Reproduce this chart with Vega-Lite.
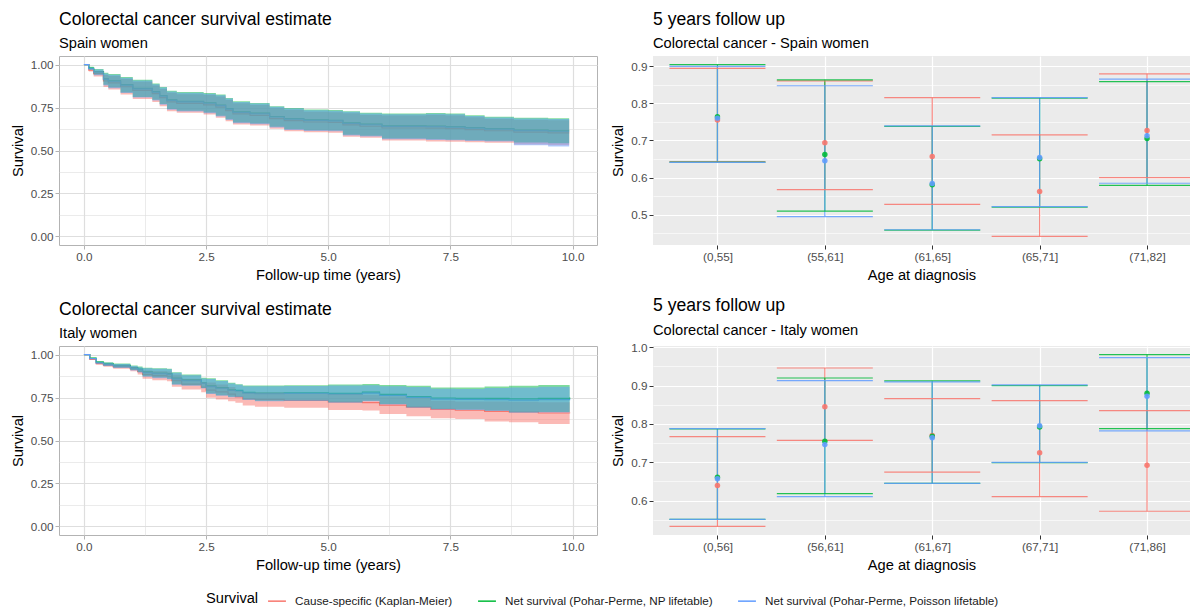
{
"$schema": "https://vega.github.io/schema/vega-lite/v6.json",
"background": "white",
"padding": {"left": 9, "top": 10, "right": 0, "bottom": 0},
"config": {
  "font": "Liberation Sans",
  "title": {"anchor": "start", "frame": "group", "fontSize": 17.6, "fontWeight": "normal", "color": "#000000", "subtitleFontSize": 14.67, "subtitleColor": "#000000", "subtitlePadding": 8, "offset": 5},
  "axis": {"labelFontSize": 11.7, "labelColor": "#4D4D4D", "titleFontSize": 14.67, "titleFontWeight": "normal", "titleColor": "#000000", "domain": false, "tickSize": 4, "labelPadding": 2, "titlePadding": 5},
  "legend": {"labelFontSize": 11.7, "labelColor": "#1A1A1A", "titleFontSize": 14.67, "titleFontWeight": "normal", "titleColor": "#000000", "labelLimit": 0, "symbolOpacity": 1}
},
"datasets": {
"spain_km": [
{"s":"Cause-specific (Kaplan-Meier)","t":0,"est":1,"lo":1,"hi":1},
{"s":"Cause-specific (Kaplan-Meier)","t":0.1,"est":0.968,"lo":0.960,"hi":0.975},
{"s":"Cause-specific (Kaplan-Meier)","t":0.2,"est":0.947,"lo":0.930,"hi":0.963},
{"s":"Cause-specific (Kaplan-Meier)","t":0.4,"est":0.905,"lo":0.870,"hi":0.940},
{"s":"Cause-specific (Kaplan-Meier)","t":0.5,"est":0.894,"lo":0.855,"hi":0.933},
{"s":"Cause-specific (Kaplan-Meier)","t":0.75,"est":0.871,"lo":0.826,"hi":0.916},
{"s":"Cause-specific (Kaplan-Meier)","t":1.0,"est":0.850,"lo":0.800,"hi":0.900},
{"s":"Cause-specific (Kaplan-Meier)","t":1.4,"est":0.831,"lo":0.783,"hi":0.878},
{"s":"Cause-specific (Kaplan-Meier)","t":1.55,"est":0.808,"lo":0.758,"hi":0.858},
{"s":"Cause-specific (Kaplan-Meier)","t":1.7,"est":0.783,"lo":0.729,"hi":0.836},
{"s":"Cause-specific (Kaplan-Meier)","t":1.9,"est":0.774,"lo":0.719,"hi":0.828},
{"s":"Cause-specific (Kaplan-Meier)","t":2.45,"est":0.766,"lo":0.709,"hi":0.823},
{"s":"Cause-specific (Kaplan-Meier)","t":2.7,"est":0.752,"lo":0.690,"hi":0.814},
{"s":"Cause-specific (Kaplan-Meier)","t":2.9,"est":0.732,"lo":0.670,"hi":0.794},
{"s":"Cause-specific (Kaplan-Meier)","t":3.05,"est":0.713,"lo":0.651,"hi":0.775},
{"s":"Cause-specific (Kaplan-Meier)","t":3.4,"est":0.705,"lo":0.645,"hi":0.765},
{"s":"Cause-specific (Kaplan-Meier)","t":3.8,"est":0.686,"lo":0.626,"hi":0.746},
{"s":"Cause-specific (Kaplan-Meier)","t":4.1,"est":0.674,"lo":0.612,"hi":0.736},
{"s":"Cause-specific (Kaplan-Meier)","t":4.5,"est":0.666,"lo":0.606,"hi":0.726},
{"s":"Cause-specific (Kaplan-Meier)","t":5.0,"est":0.664,"lo":0.604,"hi":0.723},
{"s":"Cause-specific (Kaplan-Meier)","t":5.3,"est":0.649,"lo":0.580,"hi":0.717},
{"s":"Cause-specific (Kaplan-Meier)","t":5.65,"est":0.641,"lo":0.574,"hi":0.707},
{"s":"Cause-specific (Kaplan-Meier)","t":6.1,"est":0.631,"lo":0.558,"hi":0.703},
{"s":"Cause-specific (Kaplan-Meier)","t":7.0,"est":0.630,"lo":0.553,"hi":0.706},
{"s":"Cause-specific (Kaplan-Meier)","t":7.4,"est":0.627,"lo":0.551,"hi":0.703},
{"s":"Cause-specific (Kaplan-Meier)","t":7.8,"est":0.621,"lo":0.548,"hi":0.693},
{"s":"Cause-specific (Kaplan-Meier)","t":8.2,"est":0.615,"lo":0.545,"hi":0.684},
{"s":"Cause-specific (Kaplan-Meier)","t":8.8,"est":0.607,"lo":0.535,"hi":0.678},
{"s":"Cause-specific (Kaplan-Meier)","t":9.5,"est":0.603,"lo":0.530,"hi":0.676},
{"s":"Cause-specific (Kaplan-Meier)","t":9.93,"est":0.603,"lo":0.530,"hi":0.668},
{"s":"Net survival (Pohar-Perme, NP lifetable)","t":0,"est":1,"lo":1,"hi":1},
{"s":"Net survival (Pohar-Perme, NP lifetable)","t":0.1,"est":0.980,"lo":0.972,"hi":0.987},
{"s":"Net survival (Pohar-Perme, NP lifetable)","t":0.2,"est":0.959,"lo":0.942,"hi":0.975},
{"s":"Net survival (Pohar-Perme, NP lifetable)","t":0.4,"est":0.917,"lo":0.882,"hi":0.952},
{"s":"Net survival (Pohar-Perme, NP lifetable)","t":0.5,"est":0.906,"lo":0.867,"hi":0.945},
{"s":"Net survival (Pohar-Perme, NP lifetable)","t":0.75,"est":0.883,"lo":0.838,"hi":0.928},
{"s":"Net survival (Pohar-Perme, NP lifetable)","t":1.0,"est":0.862,"lo":0.812,"hi":0.912},
{"s":"Net survival (Pohar-Perme, NP lifetable)","t":1.4,"est":0.843,"lo":0.795,"hi":0.890},
{"s":"Net survival (Pohar-Perme, NP lifetable)","t":1.55,"est":0.820,"lo":0.770,"hi":0.870},
{"s":"Net survival (Pohar-Perme, NP lifetable)","t":1.7,"est":0.795,"lo":0.741,"hi":0.848},
{"s":"Net survival (Pohar-Perme, NP lifetable)","t":1.9,"est":0.786,"lo":0.731,"hi":0.840},
{"s":"Net survival (Pohar-Perme, NP lifetable)","t":2.45,"est":0.778,"lo":0.721,"hi":0.835},
{"s":"Net survival (Pohar-Perme, NP lifetable)","t":2.7,"est":0.764,"lo":0.702,"hi":0.826},
{"s":"Net survival (Pohar-Perme, NP lifetable)","t":2.9,"est":0.744,"lo":0.682,"hi":0.806},
{"s":"Net survival (Pohar-Perme, NP lifetable)","t":3.05,"est":0.725,"lo":0.663,"hi":0.787},
{"s":"Net survival (Pohar-Perme, NP lifetable)","t":3.4,"est":0.717,"lo":0.657,"hi":0.777},
{"s":"Net survival (Pohar-Perme, NP lifetable)","t":3.8,"est":0.698,"lo":0.638,"hi":0.758},
{"s":"Net survival (Pohar-Perme, NP lifetable)","t":4.1,"est":0.686,"lo":0.624,"hi":0.748},
{"s":"Net survival (Pohar-Perme, NP lifetable)","t":4.5,"est":0.678,"lo":0.618,"hi":0.738},
{"s":"Net survival (Pohar-Perme, NP lifetable)","t":5.0,"est":0.676,"lo":0.616,"hi":0.735},
{"s":"Net survival (Pohar-Perme, NP lifetable)","t":5.3,"est":0.661,"lo":0.592,"hi":0.729},
{"s":"Net survival (Pohar-Perme, NP lifetable)","t":5.65,"est":0.653,"lo":0.586,"hi":0.719},
{"s":"Net survival (Pohar-Perme, NP lifetable)","t":6.1,"est":0.643,"lo":0.570,"hi":0.715},
{"s":"Net survival (Pohar-Perme, NP lifetable)","t":7.0,"est":0.642,"lo":0.565,"hi":0.718},
{"s":"Net survival (Pohar-Perme, NP lifetable)","t":7.4,"est":0.639,"lo":0.563,"hi":0.715},
{"s":"Net survival (Pohar-Perme, NP lifetable)","t":7.8,"est":0.633,"lo":0.560,"hi":0.705},
{"s":"Net survival (Pohar-Perme, NP lifetable)","t":8.2,"est":0.627,"lo":0.557,"hi":0.696},
{"s":"Net survival (Pohar-Perme, NP lifetable)","t":8.8,"est":0.619,"lo":0.547,"hi":0.690},
{"s":"Net survival (Pohar-Perme, NP lifetable)","t":9.5,"est":0.615,"lo":0.542,"hi":0.688},
{"s":"Net survival (Pohar-Perme, NP lifetable)","t":9.93,"est":0.615,"lo":0.542,"hi":0.690},
{"s":"Net survival (Pohar-Perme, Poisson lifetable)","t":0,"est":1,"lo":1,"hi":1},
{"s":"Net survival (Pohar-Perme, Poisson lifetable)","t":0.1,"est":0.977,"lo":0.968,"hi":0.983},
{"s":"Net survival (Pohar-Perme, Poisson lifetable)","t":0.2,"est":0.956,"lo":0.938,"hi":0.971},
{"s":"Net survival (Pohar-Perme, Poisson lifetable)","t":0.4,"est":0.914,"lo":0.878,"hi":0.948},
{"s":"Net survival (Pohar-Perme, Poisson lifetable)","t":0.5,"est":0.903,"lo":0.863,"hi":0.941},
{"s":"Net survival (Pohar-Perme, Poisson lifetable)","t":0.75,"est":0.880,"lo":0.834,"hi":0.924},
{"s":"Net survival (Pohar-Perme, Poisson lifetable)","t":1.0,"est":0.859,"lo":0.808,"hi":0.908},
{"s":"Net survival (Pohar-Perme, Poisson lifetable)","t":1.4,"est":0.840,"lo":0.791,"hi":0.886},
{"s":"Net survival (Pohar-Perme, Poisson lifetable)","t":1.55,"est":0.817,"lo":0.766,"hi":0.866},
{"s":"Net survival (Pohar-Perme, Poisson lifetable)","t":1.7,"est":0.792,"lo":0.737,"hi":0.844},
{"s":"Net survival (Pohar-Perme, Poisson lifetable)","t":1.9,"est":0.783,"lo":0.727,"hi":0.836},
{"s":"Net survival (Pohar-Perme, Poisson lifetable)","t":2.45,"est":0.775,"lo":0.717,"hi":0.831},
{"s":"Net survival (Pohar-Perme, Poisson lifetable)","t":2.7,"est":0.761,"lo":0.698,"hi":0.822},
{"s":"Net survival (Pohar-Perme, Poisson lifetable)","t":2.9,"est":0.741,"lo":0.678,"hi":0.802},
{"s":"Net survival (Pohar-Perme, Poisson lifetable)","t":3.05,"est":0.722,"lo":0.659,"hi":0.783},
{"s":"Net survival (Pohar-Perme, Poisson lifetable)","t":3.4,"est":0.714,"lo":0.653,"hi":0.773},
{"s":"Net survival (Pohar-Perme, Poisson lifetable)","t":3.8,"est":0.695,"lo":0.634,"hi":0.754},
{"s":"Net survival (Pohar-Perme, Poisson lifetable)","t":4.1,"est":0.683,"lo":0.620,"hi":0.744},
{"s":"Net survival (Pohar-Perme, Poisson lifetable)","t":4.5,"est":0.675,"lo":0.614,"hi":0.734},
{"s":"Net survival (Pohar-Perme, Poisson lifetable)","t":5.0,"est":0.673,"lo":0.612,"hi":0.731},
{"s":"Net survival (Pohar-Perme, Poisson lifetable)","t":5.3,"est":0.658,"lo":0.588,"hi":0.725},
{"s":"Net survival (Pohar-Perme, Poisson lifetable)","t":5.65,"est":0.650,"lo":0.582,"hi":0.715},
{"s":"Net survival (Pohar-Perme, Poisson lifetable)","t":6.1,"est":0.640,"lo":0.566,"hi":0.711},
{"s":"Net survival (Pohar-Perme, Poisson lifetable)","t":7.0,"est":0.639,"lo":0.561,"hi":0.714},
{"s":"Net survival (Pohar-Perme, Poisson lifetable)","t":7.4,"est":0.636,"lo":0.559,"hi":0.711},
{"s":"Net survival (Pohar-Perme, Poisson lifetable)","t":7.8,"est":0.630,"lo":0.556,"hi":0.701},
{"s":"Net survival (Pohar-Perme, Poisson lifetable)","t":8.2,"est":0.624,"lo":0.553,"hi":0.692},
{"s":"Net survival (Pohar-Perme, Poisson lifetable)","t":8.8,"est":0.616,"lo":0.531,"hi":0.686},
{"s":"Net survival (Pohar-Perme, Poisson lifetable)","t":9.5,"est":0.612,"lo":0.524,"hi":0.684},
{"s":"Net survival (Pohar-Perme, Poisson lifetable)","t":9.93,"est":0.612,"lo":0.524,"hi":0.684}
],
"italy_km": [
{"s":"Cause-specific (Kaplan-Meier)","t":0,"est":1,"lo":1,"hi":1},
{"s":"Cause-specific (Kaplan-Meier)","t":0.12,"est":0.972,"lo":0.971,"hi":0.973},
{"s":"Cause-specific (Kaplan-Meier)","t":0.25,"est":0.948,"lo":0.942,"hi":0.953},
{"s":"Cause-specific (Kaplan-Meier)","t":0.4,"est":0.938,"lo":0.929,"hi":0.947},
{"s":"Cause-specific (Kaplan-Meier)","t":0.6,"est":0.929,"lo":0.917,"hi":0.940},
{"s":"Cause-specific (Kaplan-Meier)","t":0.95,"est":0.916,"lo":0.903,"hi":0.928},
{"s":"Cause-specific (Kaplan-Meier)","t":1.1,"est":0.900,"lo":0.884,"hi":0.915},
{"s":"Cause-specific (Kaplan-Meier)","t":1.2,"est":0.884,"lo":0.859,"hi":0.908},
{"s":"Cause-specific (Kaplan-Meier)","t":1.4,"est":0.878,"lo":0.851,"hi":0.905},
{"s":"Cause-specific (Kaplan-Meier)","t":1.7,"est":0.874,"lo":0.845,"hi":0.902},
{"s":"Cause-specific (Kaplan-Meier)","t":1.8,"est":0.848,"lo":0.813,"hi":0.882},
{"s":"Cause-specific (Kaplan-Meier)","t":2.0,"est":0.828,"lo":0.797,"hi":0.859},
{"s":"Cause-specific (Kaplan-Meier)","t":2.4,"est":0.811,"lo":0.781,"hi":0.840},
{"s":"Cause-specific (Kaplan-Meier)","t":2.5,"est":0.793,"lo":0.749,"hi":0.837},
{"s":"Cause-specific (Kaplan-Meier)","t":2.7,"est":0.783,"lo":0.739,"hi":0.826},
{"s":"Cause-specific (Kaplan-Meier)","t":2.95,"est":0.770,"lo":0.729,"hi":0.811},
{"s":"Cause-specific (Kaplan-Meier)","t":3.1,"est":0.754,"lo":0.720,"hi":0.788},
{"s":"Cause-specific (Kaplan-Meier)","t":3.25,"est":0.742,"lo":0.704,"hi":0.780},
{"s":"Cause-specific (Kaplan-Meier)","t":3.5,"est":0.739,"lo":0.697,"hi":0.780},
{"s":"Cause-specific (Kaplan-Meier)","t":4.1,"est":0.733,"lo":0.691,"hi":0.774},
{"s":"Cause-specific (Kaplan-Meier)","t":5.0,"est":0.724,"lo":0.677,"hi":0.771},
{"s":"Cause-specific (Kaplan-Meier)","t":5.7,"est":0.721,"lo":0.674,"hi":0.767},
{"s":"Cause-specific (Kaplan-Meier)","t":6.05,"est":0.706,"lo":0.654,"hi":0.757},
{"s":"Cause-specific (Kaplan-Meier)","t":6.6,"est":0.694,"lo":0.641,"hi":0.747},
{"s":"Cause-specific (Kaplan-Meier)","t":7.1,"est":0.681,"lo":0.629,"hi":0.732},
{"s":"Cause-specific (Kaplan-Meier)","t":7.6,"est":0.676,"lo":0.625,"hi":0.727},
{"s":"Cause-specific (Kaplan-Meier)","t":8.2,"est":0.669,"lo":0.610,"hi":0.727},
{"s":"Cause-specific (Kaplan-Meier)","t":8.7,"est":0.666,"lo":0.606,"hi":0.726},
{"s":"Cause-specific (Kaplan-Meier)","t":9.3,"est":0.660,"lo":0.596,"hi":0.723},
{"s":"Cause-specific (Kaplan-Meier)","t":9.94,"est":0.658,"lo":0.596,"hi":0.720},
{"s":"Net survival (Pohar-Perme, NP lifetable)","t":0,"est":1,"lo":1,"hi":1},
{"s":"Net survival (Pohar-Perme, NP lifetable)","t":0.12,"est":0.980,"lo":0.979,"hi":0.981},
{"s":"Net survival (Pohar-Perme, NP lifetable)","t":0.25,"est":0.956,"lo":0.950,"hi":0.961},
{"s":"Net survival (Pohar-Perme, NP lifetable)","t":0.4,"est":0.946,"lo":0.937,"hi":0.955},
{"s":"Net survival (Pohar-Perme, NP lifetable)","t":0.6,"est":0.937,"lo":0.925,"hi":0.948},
{"s":"Net survival (Pohar-Perme, NP lifetable)","t":0.95,"est":0.924,"lo":0.911,"hi":0.936},
{"s":"Net survival (Pohar-Perme, NP lifetable)","t":1.1,"est":0.915,"lo":0.899,"hi":0.930},
{"s":"Net survival (Pohar-Perme, NP lifetable)","t":1.2,"est":0.899,"lo":0.874,"hi":0.923},
{"s":"Net survival (Pohar-Perme, NP lifetable)","t":1.4,"est":0.893,"lo":0.866,"hi":0.920},
{"s":"Net survival (Pohar-Perme, NP lifetable)","t":1.7,"est":0.889,"lo":0.860,"hi":0.917},
{"s":"Net survival (Pohar-Perme, NP lifetable)","t":1.8,"est":0.863,"lo":0.828,"hi":0.897},
{"s":"Net survival (Pohar-Perme, NP lifetable)","t":2.0,"est":0.853,"lo":0.822,"hi":0.884},
{"s":"Net survival (Pohar-Perme, NP lifetable)","t":2.4,"est":0.836,"lo":0.806,"hi":0.865},
{"s":"Net survival (Pohar-Perme, NP lifetable)","t":2.5,"est":0.818,"lo":0.774,"hi":0.862},
{"s":"Net survival (Pohar-Perme, NP lifetable)","t":2.7,"est":0.808,"lo":0.764,"hi":0.851},
{"s":"Net survival (Pohar-Perme, NP lifetable)","t":2.95,"est":0.795,"lo":0.754,"hi":0.836},
{"s":"Net survival (Pohar-Perme, NP lifetable)","t":3.1,"est":0.792,"lo":0.755,"hi":0.828},
{"s":"Net survival (Pohar-Perme, NP lifetable)","t":3.25,"est":0.780,"lo":0.739,"hi":0.820},
{"s":"Net survival (Pohar-Perme, NP lifetable)","t":3.5,"est":0.776,"lo":0.732,"hi":0.820},
{"s":"Net survival (Pohar-Perme, NP lifetable)","t":4.1,"est":0.778,"lo":0.733,"hi":0.822},
{"s":"Net survival (Pohar-Perme, NP lifetable)","t":5.0,"est":0.774,"lo":0.722,"hi":0.826},
{"s":"Net survival (Pohar-Perme, NP lifetable)","t":5.7,"est":0.781,"lo":0.732,"hi":0.829},
{"s":"Net survival (Pohar-Perme, NP lifetable)","t":6.05,"est":0.768,"lo":0.713,"hi":0.823},
{"s":"Net survival (Pohar-Perme, NP lifetable)","t":6.6,"est":0.756,"lo":0.693,"hi":0.819},
{"s":"Net survival (Pohar-Perme, NP lifetable)","t":7.1,"est":0.747,"lo":0.684,"hi":0.809},
{"s":"Net survival (Pohar-Perme, NP lifetable)","t":7.6,"est":0.745,"lo":0.680,"hi":0.809},
{"s":"Net survival (Pohar-Perme, NP lifetable)","t":8.2,"est":0.745,"lo":0.674,"hi":0.815},
{"s":"Net survival (Pohar-Perme, NP lifetable)","t":8.7,"est":0.742,"lo":0.664,"hi":0.819},
{"s":"Net survival (Pohar-Perme, NP lifetable)","t":9.3,"est":0.745,"lo":0.666,"hi":0.823},
{"s":"Net survival (Pohar-Perme, NP lifetable)","t":9.94,"est":0.750,"lo":0.674,"hi":0.825},
{"s":"Net survival (Pohar-Perme, Poisson lifetable)","t":0,"est":1,"lo":1,"hi":1},
{"s":"Net survival (Pohar-Perme, Poisson lifetable)","t":0.12,"est":0.977,"lo":0.976,"hi":0.978},
{"s":"Net survival (Pohar-Perme, Poisson lifetable)","t":0.25,"est":0.952,"lo":0.947,"hi":0.958},
{"s":"Net survival (Pohar-Perme, Poisson lifetable)","t":0.4,"est":0.942,"lo":0.934,"hi":0.952},
{"s":"Net survival (Pohar-Perme, Poisson lifetable)","t":0.6,"est":0.933,"lo":0.922,"hi":0.945},
{"s":"Net survival (Pohar-Perme, Poisson lifetable)","t":0.95,"est":0.920,"lo":0.908,"hi":0.933},
{"s":"Net survival (Pohar-Perme, Poisson lifetable)","t":1.1,"est":0.911,"lo":0.896,"hi":0.927},
{"s":"Net survival (Pohar-Perme, Poisson lifetable)","t":1.2,"est":0.895,"lo":0.871,"hi":0.920},
{"s":"Net survival (Pohar-Perme, Poisson lifetable)","t":1.4,"est":0.889,"lo":0.863,"hi":0.917},
{"s":"Net survival (Pohar-Perme, Poisson lifetable)","t":1.7,"est":0.885,"lo":0.857,"hi":0.914},
{"s":"Net survival (Pohar-Perme, Poisson lifetable)","t":1.8,"est":0.859,"lo":0.825,"hi":0.894},
{"s":"Net survival (Pohar-Perme, Poisson lifetable)","t":2.0,"est":0.849,"lo":0.819,"hi":0.880},
{"s":"Net survival (Pohar-Perme, Poisson lifetable)","t":2.4,"est":0.832,"lo":0.803,"hi":0.861},
{"s":"Net survival (Pohar-Perme, Poisson lifetable)","t":2.5,"est":0.814,"lo":0.771,"hi":0.858},
{"s":"Net survival (Pohar-Perme, Poisson lifetable)","t":2.7,"est":0.804,"lo":0.761,"hi":0.847},
{"s":"Net survival (Pohar-Perme, Poisson lifetable)","t":2.95,"est":0.791,"lo":0.751,"hi":0.832},
{"s":"Net survival (Pohar-Perme, Poisson lifetable)","t":3.1,"est":0.788,"lo":0.752,"hi":0.824},
{"s":"Net survival (Pohar-Perme, Poisson lifetable)","t":3.25,"est":0.776,"lo":0.736,"hi":0.816},
{"s":"Net survival (Pohar-Perme, Poisson lifetable)","t":3.5,"est":0.772,"lo":0.729,"hi":0.816},
{"s":"Net survival (Pohar-Perme, Poisson lifetable)","t":4.1,"est":0.774,"lo":0.730,"hi":0.817},
{"s":"Net survival (Pohar-Perme, Poisson lifetable)","t":5.0,"est":0.770,"lo":0.719,"hi":0.820},
{"s":"Net survival (Pohar-Perme, Poisson lifetable)","t":5.7,"est":0.776,"lo":0.729,"hi":0.822},
{"s":"Net survival (Pohar-Perme, Poisson lifetable)","t":6.05,"est":0.763,"lo":0.710,"hi":0.816},
{"s":"Net survival (Pohar-Perme, Poisson lifetable)","t":6.6,"est":0.751,"lo":0.690,"hi":0.811},
{"s":"Net survival (Pohar-Perme, Poisson lifetable)","t":7.1,"est":0.741,"lo":0.681,"hi":0.801},
{"s":"Net survival (Pohar-Perme, Poisson lifetable)","t":7.6,"est":0.739,"lo":0.677,"hi":0.800},
{"s":"Net survival (Pohar-Perme, Poisson lifetable)","t":8.2,"est":0.738,"lo":0.671,"hi":0.805},
{"s":"Net survival (Pohar-Perme, Poisson lifetable)","t":8.7,"est":0.735,"lo":0.661,"hi":0.809},
{"s":"Net survival (Pohar-Perme, Poisson lifetable)","t":9.3,"est":0.738,"lo":0.663,"hi":0.813},
{"s":"Net survival (Pohar-Perme, Poisson lifetable)","t":9.94,"est":0.743,"lo":0.671,"hi":0.815}
],
"spain_5y": [
{"s":"Cause-specific (Kaplan-Meier)","age":"(0,55]","est":0.755,"lo":0.643,"hi":0.894},
{"s":"Cause-specific (Kaplan-Meier)","age":"(55,61]","est":0.694,"lo":0.568,"hi":0.860},
{"s":"Cause-specific (Kaplan-Meier)","age":"(61,65]","est":0.657,"lo":0.528,"hi":0.815},
{"s":"Cause-specific (Kaplan-Meier)","age":"(65,71]","est":0.5625,"lo":0.442,"hi":0.715},
{"s":"Cause-specific (Kaplan-Meier)","age":"(71,82]","est":0.727,"lo":0.600,"hi":0.879},
{"s":"Net survival (Pohar-Perme, NP lifetable)","age":"(0,55]","est":0.764,"lo":0.642,"hi":0.904},
{"s":"Net survival (Pohar-Perme, NP lifetable)","age":"(55,61]","est":0.6625,"lo":0.510,"hi":0.863},
{"s":"Net survival (Pohar-Perme, NP lifetable)","age":"(61,65]","est":0.581,"lo":0.459,"hi":0.738},
{"s":"Net survival (Pohar-Perme, NP lifetable)","age":"(65,71]","est":0.651,"lo":0.521,"hi":0.814},
{"s":"Net survival (Pohar-Perme, NP lifetable)","age":"(71,82]","est":0.705,"lo":0.579,"hi":0.858},
{"s":"Net survival (Pohar-Perme, Poisson lifetable)","age":"(0,55]","est":0.760,"lo":0.641,"hi":0.899},
{"s":"Net survival (Pohar-Perme, Poisson lifetable)","age":"(55,61]","est":0.6455,"lo":0.4955,"hi":0.847},
{"s":"Net survival (Pohar-Perme, Poisson lifetable)","age":"(61,65]","est":0.584,"lo":0.460,"hi":0.739},
{"s":"Net survival (Pohar-Perme, Poisson lifetable)","age":"(65,71]","est":0.654,"lo":0.522,"hi":0.815},
{"s":"Net survival (Pohar-Perme, Poisson lifetable)","age":"(71,82]","est":0.7125,"lo":0.585,"hi":0.865}
],
"italy_5y": [
{"s":"Cause-specific (Kaplan-Meier)","age":"(0,56]","est":0.639,"lo":0.5325,"hi":0.767},
{"s":"Cause-specific (Kaplan-Meier)","age":"(56,61]","est":0.845,"lo":0.757,"hi":0.946},
{"s":"Cause-specific (Kaplan-Meier)","age":"(61,67]","est":0.770,"lo":0.674,"hi":0.866},
{"s":"Cause-specific (Kaplan-Meier)","age":"(67,71]","est":0.725,"lo":0.610,"hi":0.861},
{"s":"Cause-specific (Kaplan-Meier)","age":"(71,86]","est":0.692,"lo":0.572,"hi":0.835},
{"s":"Net survival (Pohar-Perme, NP lifetable)","age":"(0,56]","est":0.661,"lo":0.551,"hi":0.787},
{"s":"Net survival (Pohar-Perme, NP lifetable)","age":"(56,61]","est":0.755,"lo":0.618,"hi":0.920},
{"s":"Net survival (Pohar-Perme, NP lifetable)","age":"(61,67]","est":0.768,"lo":0.645,"hi":0.9125},
{"s":"Net survival (Pohar-Perme, NP lifetable)","age":"(67,71]","est":0.792,"lo":0.699,"hi":0.900},
{"s":"Net survival (Pohar-Perme, NP lifetable)","age":"(71,86]","est":0.880,"lo":0.788,"hi":0.981},
{"s":"Net survival (Pohar-Perme, Poisson lifetable)","age":"(0,56]","est":0.657,"lo":0.551,"hi":0.788},
{"s":"Net survival (Pohar-Perme, Poisson lifetable)","age":"(56,61]","est":0.746,"lo":0.610,"hi":0.913},
{"s":"Net survival (Pohar-Perme, Poisson lifetable)","age":"(61,67]","est":0.764,"lo":0.645,"hi":0.910},
{"s":"Net survival (Pohar-Perme, Poisson lifetable)","age":"(67,71]","est":0.795,"lo":0.6995,"hi":0.902},
{"s":"Net survival (Pohar-Perme, Poisson lifetable)","age":"(71,86]","est":0.872,"lo":0.782,"hi":0.973}
]
},
"bounds": "flush",
"columns": 2,
"spacing": {"row": 101, "column": 56},
"concat": [
 {"width": 538, "height": 189,
  "title": {"text": "Colorectal cancer survival estimate", "subtitle": "Spain women"},
  "view": {"stroke": "#B3B3B3", "strokeWidth": 1, "fill": "white"},
  "data": {"name": "spain_km"},
  "encoding": {
    "x": {"field": "t", "type": "quantitative", "scale": {"domain": [-0.51, 10.5], "nice": false, "zero": false},
      "axis": {"title": "Follow-up time (years)", "values": [0,1.25,2.5,3.75,5,6.25,7.5,8.75,10], "labelExpr": "datum.value % 2.5 == 0 ? format(datum.value, '.1f') : ''", "gridColor": "#DEDEDE", "gridWidth": {"condition": {"test": "datum.value % 2.5 != 0", "value": 0.6}, "value": 1.2}, "tickColor": "#B3B3B3", "tickOpacity": {"condition": {"test": "datum.value % 2.5 != 0", "value": 0}, "value": 1}}},
    "y": {"field": "est", "type": "quantitative", "scale": {"domain": [-0.05, 1.05], "nice": false, "zero": false},
      "axis": {"title": "Survival", "values": [0,0.125,0.25,0.375,0.5,0.625,0.75,0.875,1], "labelExpr": "(datum.value*4) % 1 == 0 ? format(datum.value, '.2f') : ''", "gridColor": "#DEDEDE", "gridWidth": {"condition": {"test": "(datum.value*4) % 1 != 0", "value": 0.6}, "value": 1.2}, "tickColor": "#B3B3B3", "tickOpacity": {"condition": {"test": "(datum.value*4) % 1 != 0", "value": 0}, "value": 1}}},
    "color": {"field": "s", "type": "nominal", "scale": {"domain": ["Cause-specific (Kaplan-Meier)", "Net survival (Pohar-Perme, NP lifetable)", "Net survival (Pohar-Perme, Poisson lifetable)"], "range": ["#F8766D", "#00BA38", "#619CFF"]},
      "legend": {"title": "Survival", "orient": "none", "legendX": 147, "legendY": 535, "direction": "horizontal", "titleOrient": "left", "symbolType": "stroke", "symbolSize": 320, "symbolStrokeWidth": 1.5, "labelOffset": 8, "columnPadding": 22, "titlePadding": 8}}
  },
  "layer": [
   {"mark": {"type": "line", "interpolate": "step-after", "strokeWidth": 1.2}, "encoding": {}},
   {"transform": [{"filter": {"field": "s", "equal": "Cause-specific (Kaplan-Meier)"}}],
    "mark": {"type": "area", "interpolate": "step-after", "opacity": 0.5},
    "encoding": {"y": {"field": "lo", "type": "quantitative", "stack": null}, "y2": {"field": "hi"}}},
   {"transform": [{"filter": {"field": "s", "equal": "Net survival (Pohar-Perme, NP lifetable)"}}],
    "mark": {"type": "area", "interpolate": "step-after", "opacity": 0.5},
    "encoding": {"y": {"field": "lo", "type": "quantitative", "stack": null}, "y2": {"field": "hi"}}},
   {"transform": [{"filter": {"field": "s", "equal": "Net survival (Pohar-Perme, Poisson lifetable)"}}],
    "mark": {"type": "area", "interpolate": "step-after", "opacity": 0.5},
    "encoding": {"y": {"field": "lo", "type": "quantitative", "stack": null}, "y2": {"field": "hi"}}}
  ]
 },
 {"width": 537, "height": 189,
  "title": {"text": "5 years follow up", "subtitle": "Colorectal cancer - Spain women"},
  "view": {"fill": "#EBEBEB", "stroke": null},
  "data": {"name": "spain_5y"},
  "encoding": {
    "x": {"field": "age", "type": "ordinal", "sort": null, "scale": {"type": "point", "padding": 0.5, "align": 0.6},
      "axis": {"title": "Age at diagnosis", "labelAngle": 0, "grid": true, "gridColor": "#FFFFFF", "gridWidth": 1.2, "tickColor": "#333333"}},
    "y": {"field": "lo", "type": "quantitative", "scale": {"domain": [0.419, 0.927], "nice": false, "zero": false},
      "axis": {"title": "Survival", "values": [0.45,0.5,0.55,0.6,0.65,0.7,0.75,0.8,0.85,0.9], "labelExpr": "(datum.value == 0.5 || datum.value == 0.6 || datum.value == 0.7 || datum.value == 0.8 || datum.value == 0.9) ? format(datum.value, '.1f') : ''", "gridColor": "#FFFFFF", "gridWidth": {"condition": {"test": "datum.value == 0.45 || datum.value == 0.55 || datum.value == 0.65 || datum.value == 0.75 || datum.value == 0.85", "value": 0.6}, "value": 1.2}, "tickColor": "#333333", "tickOpacity": {"condition": {"test": "datum.value == 0.45 || datum.value == 0.55 || datum.value == 0.65 || datum.value == 0.75 || datum.value == 0.85", "value": 0}, "value": 1}}},
    "color": {"field": "s", "type": "nominal", "scale": {"domain": ["Cause-specific (Kaplan-Meier)", "Net survival (Pohar-Perme, NP lifetable)", "Net survival (Pohar-Perme, Poisson lifetable)"], "range": ["#F8766D", "#00BA38", "#619CFF"]},
      "legend": {"title": "Survival", "orient": "none", "legendX": 147, "legendY": 535, "direction": "horizontal", "titleOrient": "left", "symbolType": "stroke", "symbolSize": 320, "symbolStrokeWidth": 1.5, "labelOffset": 8, "columnPadding": 22, "titlePadding": 8}}
  },
  "layer": [
   {"mark": {"type": "rule", "strokeWidth": 1.2, "opacity": 0.85},
    "encoding": {"y2": {"field": "hi"}}},
   {"mark": {"type": "tick", "size": 96, "thickness": 1.2, "opacity": 0.85, "clip": true},
    "encoding": {}},
   {"mark": {"type": "tick", "size": 96, "thickness": 1.2, "opacity": 0.85, "clip": true},
    "encoding": {"y": {"field": "hi", "type": "quantitative"}}},
   {"mark": {"type": "point", "filled": true, "size": 30, "opacity": 0.9},
    "encoding": {"y": {"field": "est", "type": "quantitative"}}}
  ]
 },
 {"width": 538, "height": 189,
  "title": {"text": "Colorectal cancer survival estimate", "subtitle": "Italy women"},
  "view": {"stroke": "#B3B3B3", "strokeWidth": 1, "fill": "white"},
  "data": {"name": "italy_km"},
  "encoding": {
    "x": {"field": "t", "type": "quantitative", "scale": {"domain": [-0.51, 10.5], "nice": false, "zero": false},
      "axis": {"title": "Follow-up time (years)", "values": [0,1.25,2.5,3.75,5,6.25,7.5,8.75,10], "labelExpr": "datum.value % 2.5 == 0 ? format(datum.value, '.1f') : ''", "gridColor": "#DEDEDE", "gridWidth": {"condition": {"test": "datum.value % 2.5 != 0", "value": 0.6}, "value": 1.2}, "tickColor": "#B3B3B3", "tickOpacity": {"condition": {"test": "datum.value % 2.5 != 0", "value": 0}, "value": 1}}},
    "y": {"field": "est", "type": "quantitative", "scale": {"domain": [-0.05, 1.05], "nice": false, "zero": false},
      "axis": {"title": "Survival", "values": [0,0.125,0.25,0.375,0.5,0.625,0.75,0.875,1], "labelExpr": "(datum.value*4) % 1 == 0 ? format(datum.value, '.2f') : ''", "gridColor": "#DEDEDE", "gridWidth": {"condition": {"test": "(datum.value*4) % 1 != 0", "value": 0.6}, "value": 1.2}, "tickColor": "#B3B3B3", "tickOpacity": {"condition": {"test": "(datum.value*4) % 1 != 0", "value": 0}, "value": 1}}},
    "color": {"field": "s", "type": "nominal", "scale": {"domain": ["Cause-specific (Kaplan-Meier)", "Net survival (Pohar-Perme, NP lifetable)", "Net survival (Pohar-Perme, Poisson lifetable)"], "range": ["#F8766D", "#00BA38", "#619CFF"]},
      "legend": {"title": "Survival", "orient": "none", "legendX": 147, "legendY": 535, "direction": "horizontal", "titleOrient": "left", "symbolType": "stroke", "symbolSize": 320, "symbolStrokeWidth": 1.5, "labelOffset": 8, "columnPadding": 22, "titlePadding": 8}}
  },
  "layer": [
   {"mark": {"type": "line", "interpolate": "step-after", "strokeWidth": 1.2}, "encoding": {}},
   {"transform": [{"filter": {"field": "s", "equal": "Cause-specific (Kaplan-Meier)"}}],
    "mark": {"type": "area", "interpolate": "step-after", "opacity": 0.5},
    "encoding": {"y": {"field": "lo", "type": "quantitative", "stack": null}, "y2": {"field": "hi"}}},
   {"transform": [{"filter": {"field": "s", "equal": "Net survival (Pohar-Perme, NP lifetable)"}}],
    "mark": {"type": "area", "interpolate": "step-after", "opacity": 0.5},
    "encoding": {"y": {"field": "lo", "type": "quantitative", "stack": null}, "y2": {"field": "hi"}}},
   {"transform": [{"filter": {"field": "s", "equal": "Net survival (Pohar-Perme, Poisson lifetable)"}}],
    "mark": {"type": "area", "interpolate": "step-after", "opacity": 0.5},
    "encoding": {"y": {"field": "lo", "type": "quantitative", "stack": null}, "y2": {"field": "hi"}}}
  ]
 },
 {"width": 537, "height": 189,
  "title": {"text": "5 years follow up", "subtitle": "Colorectal cancer - Italy women"},
  "view": {"fill": "#EBEBEB", "stroke": null},
  "data": {"name": "italy_5y"},
  "encoding": {
    "x": {"field": "age", "type": "ordinal", "sort": null, "scale": {"type": "point", "padding": 0.5, "align": 0.6},
      "axis": {"title": "Age at diagnosis", "labelAngle": 0, "grid": true, "gridColor": "#FFFFFF", "gridWidth": 1.2, "tickColor": "#333333"}},
    "y": {"field": "lo", "type": "quantitative", "scale": {"domain": [0.510, 1.0035], "nice": false, "zero": false},
      "axis": {"title": "Survival", "values": [0.55,0.6,0.65,0.7,0.75,0.8,0.85,0.9,0.95,1.0], "labelExpr": "(datum.value == 0.6 || datum.value == 0.7 || datum.value == 0.8 || datum.value == 0.9 || datum.value == 1) ? format(datum.value, '.1f') : ''", "gridColor": "#FFFFFF", "gridWidth": {"condition": {"test": "datum.value == 0.55 || datum.value == 0.65 || datum.value == 0.75 || datum.value == 0.85 || datum.value == 0.95", "value": 0.6}, "value": 1.2}, "tickColor": "#333333", "tickOpacity": {"condition": {"test": "datum.value == 0.55 || datum.value == 0.65 || datum.value == 0.75 || datum.value == 0.85 || datum.value == 0.95", "value": 0}, "value": 1}}},
    "color": {"field": "s", "type": "nominal", "scale": {"domain": ["Cause-specific (Kaplan-Meier)", "Net survival (Pohar-Perme, NP lifetable)", "Net survival (Pohar-Perme, Poisson lifetable)"], "range": ["#F8766D", "#00BA38", "#619CFF"]},
      "legend": {"title": "Survival", "orient": "none", "legendX": 147, "legendY": 535, "direction": "horizontal", "titleOrient": "left", "symbolType": "stroke", "symbolSize": 320, "symbolStrokeWidth": 1.5, "labelOffset": 8, "columnPadding": 22, "titlePadding": 8}}
  },
  "layer": [
   {"mark": {"type": "rule", "strokeWidth": 1.2, "opacity": 0.85},
    "encoding": {"y2": {"field": "hi"}}},
   {"mark": {"type": "tick", "size": 96, "thickness": 1.2, "opacity": 0.85, "clip": true},
    "encoding": {}},
   {"mark": {"type": "tick", "size": 96, "thickness": 1.2, "opacity": 0.85, "clip": true},
    "encoding": {"y": {"field": "hi", "type": "quantitative"}}},
   {"mark": {"type": "point", "filled": true, "size": 30, "opacity": 0.9},
    "encoding": {"y": {"field": "est", "type": "quantitative"}}}
  ]
 }
]
}
